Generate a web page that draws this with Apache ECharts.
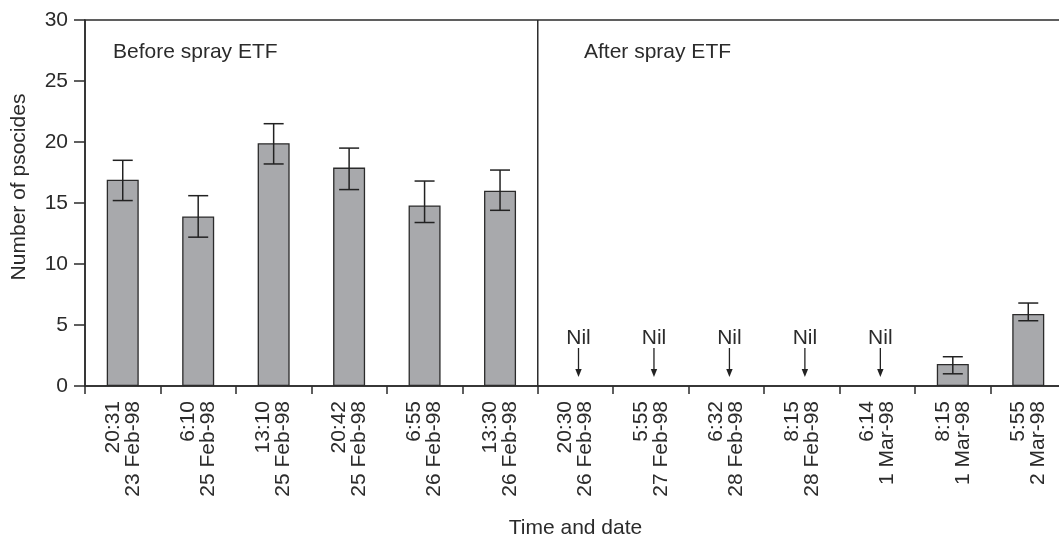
<!DOCTYPE html>
<html>
<head>
<meta charset="utf-8">
<script src="https://cdn.jsdelivr.net/npm/echarts@6/dist/echarts.min.js"></script>
<style>
html,body{margin:0;padding:0;background:#fff;}
#c{width:1059px;height:540px;}
</style>
</head>
<body>
<div id="c"></div>
<script>
const times = ['20:31','6:10','13:10','20:42','6:55','13:30','20:30','5:55','6:32','8:15','6:14','8:15','5:55'];
const dates = ['23 Feb-98','25 Feb-98','25 Feb-98','25 Feb-98','26 Feb-98','26 Feb-98','26 Feb-98','27 Feb-98','28 Feb-98','28 Feb-98','1 Mar-98','1 Mar-98','2 Mar-98'];
const values = [16.9, 13.9, 19.9, 17.9, 14.8, 16.0, null, null, null, null, null, 1.8, 5.9];
const errLow = [15.2, 12.2, 18.2, 16.1, 13.4, 14.4, null, null, null, null, null, 1.0, 5.35];
const errHigh = [18.5, 15.6, 21.5, 19.5, 16.8, 17.7, null, null, null, null, null, 2.4, 6.8];
const yTicks = [0, 5, 10, 15, 20, 25, 30];
const sprayIndex = 6; // boundary between before and after spraying
const panelLabels = ['Before spray ETF', 'After spray ETF'];
const nilText = 'Nil';

const categories = times.map((t, i) => t + '\n' + dates[i]);
const FONT = '"Liberation Sans", Arial, Helvetica, sans-serif';
const INK = '#2b2b2b';
const FS = 21;

const errData = [];
const nilData = [];
values.forEach((v, i) => {
  if (v === null) nilData.push([i, 0]);
  else errData.push([i, errLow[i], errHigh[i]]);
});

const chart = echarts.init(document.getElementById('c'), null, {renderer: 'canvas'});
chart.setOption({
  animation: false,
  backgroundColor: '#fff',
  grid: {left: 85, top: 20, bottom: 154, right: -7, outerBoundsMode: 'none', containLabel: false,
    show: true, borderColor: INK, borderWidth: 1.5, backgroundColor: 'transparent'},
  graphic: [
    {type: 'text', left: 113, top: 42, style: {text: panelLabels[0], font: FS + 'px ' + FONT, fill: INK}},
    {type: 'text', left: 584, top: 42, style: {text: panelLabels[1], font: FS + 'px ' + FONT, fill: INK}}
  ],
  xAxis: [
    {
      type: 'category', data: categories, position: 'bottom',
      axisLine: {lineStyle: {color: INK, width: 1.5}},
      axisTick: {show: true, length: 8, inside: false, alignWithLabel: false, lineStyle: {color: INK, width: 1.5}},
      axisLabel: {rotate: 90, interval: 0, margin: 15, fontSize: FS, lineHeight: 20, color: INK, fontFamily: FONT,
        padding: [6, 0, 0, 0]},
      name: 'Time and date', nameLocation: 'middle', nameGap: 132,
      nameTextStyle: {fontSize: FS, color: INK, fontFamily: FONT}
    },
    {
      type: 'value', min: 0, max: values.length, show: false
    }
  ],
  yAxis: {
    type: 'value', min: 0, max: 30, interval: 5,
    axisLine: {show: true, lineStyle: {color: INK, width: 1.5}},
    axisTick: {show: true, length: 11, lineStyle: {color: INK, width: 1.5}},
    axisLabel: {margin: 17, fontSize: FS, color: INK, fontFamily: FONT,
      customValues: yTicks},
    splitLine: {show: false},
    name: 'Number of psocides', nameLocation: 'middle', nameGap: 55,
    nameTextStyle: {fontSize: FS, color: INK, fontFamily: FONT, padding: [0, 0, 0, 32]}
  },
  series: [
    {
      type: 'bar', data: values, barWidth: 32,
      itemStyle: {color: '#a8a9ac', borderColor: INK, borderWidth: 1.3},
      z: 2
    },
    {
      type: 'custom', data: errData, z: 3,
      renderItem: function (params, api) {
        const x = api.value(0);
        const lo = api.coord([x, api.value(1)]);
        const hi = api.coord([x, api.value(2)]);
        const hw = 10;
        const st = {stroke: '#222', lineWidth: 1.5};
        return {type: 'group', children: [
          {type: 'line', shape: {x1: lo[0], y1: lo[1], x2: hi[0], y2: hi[1]}, style: st},
          {type: 'line', shape: {x1: lo[0] - hw, y1: lo[1], x2: lo[0] + hw, y2: lo[1]}, style: st},
          {type: 'line', shape: {x1: hi[0] - hw, y1: hi[1], x2: hi[0] + hw, y2: hi[1]}, style: st}
        ]};
      }
    },
    {
      type: 'custom', data: nilData, z: 3,
      renderItem: function (params, api) {
        const x = api.value(0);
        const base = api.coord([x, 0]);
        const px = base[0] + 3;
        const top = base[1] - 38;
        const tip = base[1] - 9;
        return {type: 'group', children: [
          {type: 'text', style: {text: nilText, x: px, y: base[1] - 48, align: 'center', verticalAlign: 'middle', font: FS + 'px ' + FONT, fill: INK}},
          {type: 'line', shape: {x1: px, y1: top, x2: px, y2: tip - 6}, style: {stroke: '#222', lineWidth: 1.3}},
          {type: 'polygon', shape: {points: [[px - 3.2, tip - 8], [px + 3.2, tip - 8], [px, tip]]}, style: {fill: '#222'}}
        ]};
      }
    },
    {
      type: 'line', xAxisIndex: 1, data: [[sprayIndex, 0], [sprayIndex, 30]],
      symbol: 'none', lineStyle: {color: INK, width: 1.5}, z: 4, silent: true
    }
  ]
});
</script>
</body>
</html>
